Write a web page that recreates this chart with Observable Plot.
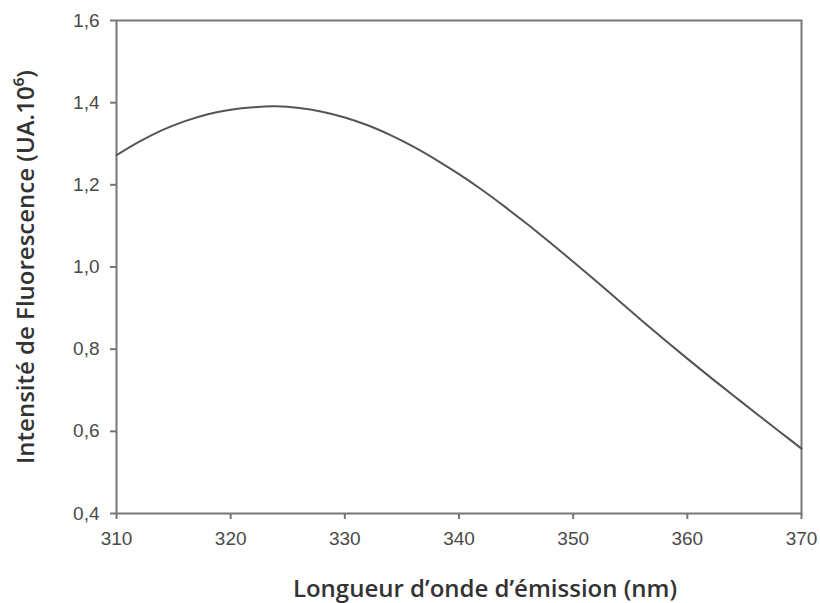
<!DOCTYPE html>
<html>
<head>
<meta charset="utf-8">
<script src="https://cdn.jsdelivr.net/npm/d3@7"></script>
<script src="https://cdn.jsdelivr.net/npm/@observablehq/plot@0.6"></script>
<style>
  html, body { margin: 0; padding: 0; background: #fff; }
  #chart svg { display: block; }
</style>
</head>
<body>
<div id="chart"></div>
<script>
// Emission wavelength (nm)
const wavelengths = [310, 312, 314, 316, 318, 320, 322, 324, 326, 328, 330, 332, 334, 336, 338, 340,
                     342, 344, 346, 348, 350, 352, 354, 356, 358, 360, 362, 364, 366, 368, 370];
// Fluorescence intensity (UA.10^6)
const intensities = [1.272, 1.305, 1.333, 1.355, 1.372, 1.383, 1.389, 1.391, 1.387, 1.378, 1.364, 1.345, 1.321, 1.293, 1.261, 1.226,
                     1.188, 1.147, 1.104, 1.059, 1.013, 0.966, 0.918, 0.870, 0.823, 0.777, 0.732, 0.688, 0.644, 0.601, 0.558];
const xTicks = [310, 320, 330, 340, 350, 360, 370];
const yTicks = [0.4, 0.6, 0.8, 1.0, 1.2, 1.4, 1.6];
const xLabel = "Longueur d’onde d’émission (nm)";
const yLabel = "Intensité de Fluorescence (UA.10⁶)";

const data = wavelengths.map((w, i) => ({w, v: intensities[i]}));
const fmt = d => d3.format(".1f")(d).replace(".", ",");

const chart = Plot.plot({
  width: 820,
  height: 603,
  marginLeft: 116,
  marginRight: 19,
  marginTop: 20,
  marginBottom: 90,
  style: {fontFamily: "Liberation Sans, Arial, sans-serif", background: "#fff"},
  x: {domain: [310, 370]},
  y: {domain: [0.4, 1.6]},
  marks: [
    Plot.axisX({ticks: xTicks, tickSize: 6, tickPadding: 12, label: null, tickFormat: d => d,
                fontSize: 19, fill: "#4a4a4a", stroke: "#777", strokeWidth: 2}),
    Plot.axisY({ticks: yTicks, tickSize: 6, tickPadding: 11, label: null, tickFormat: fmt,
                fontSize: 19, fill: "#4a4a4a", stroke: "#777", strokeWidth: 2}),
    Plot.frame({stroke: "#777", strokeWidth: 2}),
    Plot.line(data, {x: "w", y: "v", stroke: "#555", strokeWidth: 2, curve: "catmull-rom"}),
    Plot.text([xLabel], {text: d => d, frameAnchor: "bottom", dx: 26, dy: 76, lineAnchor: "middle",
                         fontSize: 24, fontWeight: 600, fill: "#333", fontFamily: "Open Sans"}),
    Plot.text([yLabel], {text: d => d, frameAnchor: "left", dx: -90, rotate: -90, lineAnchor: "middle",
                         textAnchor: "middle", fontSize: 24, fontWeight: 600, fill: "#333", fontFamily: "Open Sans"})
  ]
});
document.getElementById("chart").appendChild(chart);
</script>
</body>
</html>
